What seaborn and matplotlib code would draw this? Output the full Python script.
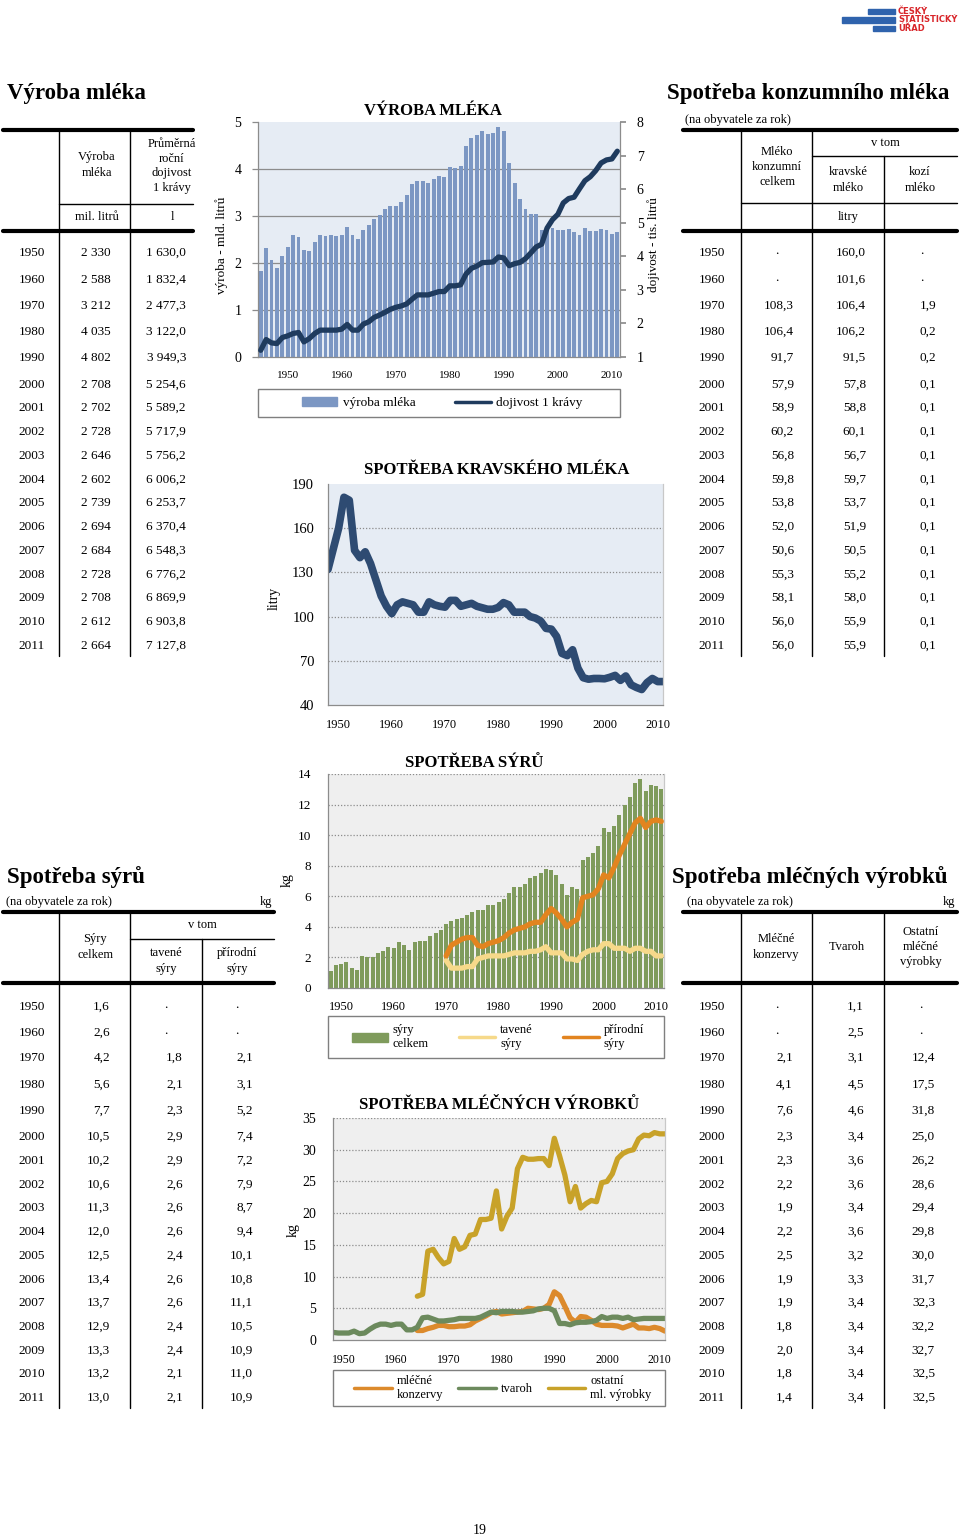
import numpy as np
import pandas as pd
import seaborn as sns
import matplotlib.pyplot as plt
from matplotlib.lines import Line2D
from matplotlib.patches import Rectangle, Patch

W, H = 960, 1540

# ---- data ----
vyroba_roky = list(range(1945, 2012))
vyroba_mld = [1.82, 2.31, 2.07, 1.89, 2.14,
              2.33, 2.60, 2.55, 2.28, 2.26, 2.44, 2.60, 2.57, 2.59, 2.58,
              2.59, 2.77, 2.59, 2.51, 2.70, 2.80, 2.94, 3.03, 3.14, 3.22,
              3.21, 3.30, 3.45, 3.69, 3.75, 3.74, 3.70, 3.78, 3.85, 3.83,
              4.04, 4.03, 4.06, 4.49, 4.65, 4.72, 4.81, 4.75, 4.76, 4.89,
              4.80, 4.13, 3.70, 3.36, 3.14, 3.04, 3.05, 2.71, 2.72, 2.74,
              2.71, 2.70, 2.73, 2.65, 2.60, 2.74, 2.69, 2.68, 2.73, 2.71, 2.61, 2.66]
dojivost_tis = [1.20, 1.52, 1.42, 1.40, 1.58,
                1.63, 1.70, 1.73, 1.45, 1.55, 1.70, 1.80, 1.80, 1.80, 1.80,
                1.83, 1.97, 1.80, 1.80, 1.98, 2.05, 2.18, 2.25, 2.33, 2.42,
                2.48, 2.52, 2.58, 2.72, 2.85, 2.85, 2.85, 2.90, 2.95, 2.95,
                3.12, 3.12, 3.15, 3.47, 3.64, 3.71, 3.81, 3.82, 3.83, 3.98,
                3.95, 3.72, 3.78, 3.82, 3.93, 4.10, 4.28, 4.36, 4.84, 5.09,
                5.25, 5.59, 5.72, 5.76, 6.01, 6.25, 6.37, 6.55, 6.78, 6.87, 6.90, 7.13]

kravske_roky = list(range(1948, 2012))
kravske_litry = [132, 146,
                 160, 181, 179, 145, 140, 144, 136, 125, 114, 107,
                 102, 108, 110, 109, 108, 103, 103, 110, 108, 107,
                 106.4, 111, 111, 107, 108, 109, 107, 106, 105, 105,
                 106.2, 109.5, 108, 103, 103, 103, 100, 99, 97, 92,
                 91.5, 86.5, 75, 73.5, 77.5, 65, 58.5, 57.5, 58, 58,
                 57.8, 58.8, 60.1, 56.7, 59.7, 53.7, 51.9, 50.5, 55.2, 58.0, 55.9, 55.9]

syry_roky = list(range(1948, 2012))
syry_celkem = [1.1, 1.5,
               1.6, 1.7, 1.3, 1.2, 2.1, 2.0, 2.0, 2.3, 2.4, 2.7,
               2.6, 3.0, 2.8, 2.5, 3.0, 3.1, 3.1, 3.4, 3.6, 3.8,
               4.2, 4.4, 4.5, 4.6, 4.8, 5.0, 5.1, 5.1, 5.4, 5.4,
               5.6, 5.8, 6.2, 6.6, 6.6, 6.8, 7.2, 7.3, 7.5, 7.8,
               7.7, 7.4, 6.8, 6.1, 6.6, 6.5, 8.4, 8.6, 8.8, 9.3,
               10.5, 10.2, 10.6, 11.3, 12.0, 12.5, 13.4, 13.7, 12.9, 13.3, 13.2, 13.0]
syry_druhy_roky = list(range(1970, 2012))
tavene = [1.8, 1.3, 1.3, 1.3, 1.4, 1.4, 1.9, 2.0, 2.1, 2.1,
          2.1, 2.1, 2.2, 2.3, 2.3, 2.3, 2.4, 2.4, 2.5, 2.7,
          2.3, 2.3, 2.3, 1.9, 1.9, 1.8, 2.2, 2.4, 2.5, 2.5,
          2.9, 2.9, 2.6, 2.6, 2.6, 2.4, 2.6, 2.6, 2.4, 2.4, 2.1, 2.1]
prirodni = [2.1, 2.8, 3.0, 3.2, 3.3, 3.3, 2.8, 2.7, 2.9, 3.0,
            3.1, 3.3, 3.6, 3.8, 3.9, 4.0, 4.2, 4.3, 4.3, 4.8,
            5.2, 4.9, 4.5, 4.0, 4.3, 4.5, 5.9, 6.0, 6.1, 6.5,
            7.4, 7.2, 7.9, 8.7, 9.4, 10.1, 10.8, 11.1, 10.5, 10.9, 11.0, 10.9]

tvaroh_roky = list(range(1948, 2012))
tvaroh = [1.2, 1.1,
          1.1, 1.1, 1.4, 1.0, 1.1, 1.7, 2.2, 2.5, 2.5, 2.3,
          2.5, 2.5, 1.6, 1.6, 2.0, 3.5, 3.6, 3.3, 3.0, 3.0,
          3.1, 3.2, 3.4, 3.4, 3.4, 3.4, 3.6, 4.0, 4.4, 4.3,
          4.5, 4.5, 4.5, 4.4, 4.4, 4.5, 4.6, 4.9, 5.0, 5.0,
          4.6, 2.6, 2.6, 2.4, 2.7, 2.8, 2.8, 2.9, 3.1, 3.7,
          3.4, 3.6, 3.6, 3.4, 3.6, 3.2, 3.3, 3.4, 3.4, 3.4, 3.4, 3.4]
vyrobky_roky = list(range(1964, 2012))
konzervy = [1.5, 1.5, 1.8, 2.0, 2.3, 2.3,
            2.1, 2.1, 2.2, 2.2, 2.4, 3.0, 3.4, 3.8, 4.3, 4.5,
            4.1, 4.2, 4.3, 4.4, 4.5, 5.0, 4.9, 4.8, 5.0, 5.6,
            7.6, 7.0, 5.3, 3.5, 2.8, 3.7, 3.6, 3.1, 2.5, 2.3,
            2.3, 2.3, 2.2, 1.9, 2.2, 2.5, 1.9, 1.9, 1.8, 2.0, 1.8, 1.4]
ostatni = [6.9, 7.2, 14.0, 14.3, 13.0, 12.0,
           12.4, 16.0, 14.3, 14.7, 16.5, 16.7, 19.0, 19.0, 19.2, 23.5,
           17.5, 19.5, 20.8, 27.0, 28.8, 28.5, 28.5, 28.6, 28.6, 27.5,
           31.8, 29.0, 26.0, 21.8, 24.2, 20.8, 21.5, 22.0, 21.8, 24.8,
           25.0, 26.2, 28.6, 29.4, 29.8, 30.0, 31.7, 32.3, 32.2, 32.7, 32.5, 32.5]

# ---- table contents ----
tab_roky = ['1950', '1960', '1970', '1980', '1990', '2000', '2001', '2002', '2003',
            '2004', '2005', '2006', '2007', '2008', '2009', '2010', '2011']
t1_vyroba = ['2 330', '2 588', '3 212', '4 035', '4 802', '2 708', '2 702', '2 728', '2 646',
             '2 602', '2 739', '2 694', '2 684', '2 728', '2 708', '2 612', '2 664']
t1_dojivost = ['1 630,0', '1 832,4', '2 477,3', '3 122,0', '3 949,3', '5 254,6', '5 589,2',
               '5 717,9', '5 756,2', '6 006,2', '6 253,7', '6 370,4', '6 548,3', '6 776,2',
               '6 869,9', '6 903,8', '7 127,8']
t2_celkem = ['.', '.', '108,3', '106,4', '91,7', '57,9', '58,9', '60,2', '56,8',
             '59,8', '53,8', '52,0', '50,6', '55,3', '58,1', '56,0', '56,0']
t2_kravske = ['160,0', '101,6', '106,4', '106,2', '91,5', '57,8', '58,8', '60,1', '56,7',
              '59,7', '53,7', '51,9', '50,5', '55,2', '58,0', '55,9', '55,9']
t2_kozi = ['.', '.', '1,9', '0,2', '0,2', '0,1', '0,1', '0,1', '0,1',
           '0,1', '0,1', '0,1', '0,1', '0,1', '0,1', '0,1', '0,1']
t3_celkem = ['1,6', '2,6', '4,2', '5,6', '7,7', '10,5', '10,2', '10,6', '11,3',
             '12,0', '12,5', '13,4', '13,7', '12,9', '13,3', '13,2', '13,0']
t3_tavene = ['.', '.', '1,8', '2,1', '2,3', '2,9', '2,9', '2,6', '2,6',
             '2,6', '2,4', '2,6', '2,6', '2,4', '2,4', '2,1', '2,1']
t3_prirodni = ['.', '.', '2,1', '3,1', '5,2', '7,4', '7,2', '7,9', '8,7',
               '9,4', '10,1', '10,8', '11,1', '10,5', '10,9', '11,0', '10,9']
t4_konzervy = ['.', '.', '2,1', '4,1', '7,6', '2,3', '2,3', '2,2', '1,9',
               '2,2', '2,5', '1,9', '1,9', '1,8', '2,0', '1,8', '1,4']
t4_tvaroh = ['1,1', '2,5', '3,1', '4,5', '4,6', '3,4', '3,6', '3,6', '3,4',
             '3,6', '3,2', '3,3', '3,4', '3,4', '3,4', '3,4', '3,4']
t4_ostatni = ['.', '.', '12,4', '17,5', '31,8', '25,0', '26,2', '28,6', '29,4',
              '29,8', '30,0', '31,7', '32,3', '32,2', '32,7', '32,5', '32,5']

sns.set_theme(style="white")
plt.rcParams['font.family'] = ['Liberation Serif', 'DejaVu Serif']
plt.rcParams['text.color'] = 'black'
plt.rcParams['xtick.color'] = 'black'
plt.rcParams['ytick.color'] = 'black'

fig = plt.figure(figsize=(9.6, 15.4), dpi=100)


def box(x0, y0, x1, y1):
    return fig.add_axes([x0 / W, 1 - y1 / H, (x1 - x0) / W, (y1 - y0) / H])


def txt(x, y, s, size=9.5, ha='center', va='center', **kw):
    fig.text(x / W, 1 - y / H, s, fontsize=size, ha=ha, va=va, **kw)


def line(x0, y0, x1, y1, lw=1.0):
    fig.add_artist(Line2D([x0 / W, x1 / W], [1 - y0 / H, 1 - y1 / H], lw=lw, color='black'))


def legend_box(ax, handles, labels, x0, y0, x1, y1, ncol, cx, size=9.5, hlen=2.8, colsp=2.5):
    # frame spans the plot width, entries sit centred inside it
    fig.add_artist(Rectangle((x0 / W, 1 - y1 / H), (x1 - x0) / W, (y1 - y0) / H,
                             fill=False, edgecolor='#7f7f7f', lw=1.0, transform=fig.transFigure))
    ax.legend(handles, labels, loc='center', ncol=ncol,
              bbox_to_anchor=(cx / W, 1 - (y0 + y1) / 2 / H), bbox_transform=fig.transFigure,
              frameon=False, fontsize=size, handlelength=hlen, handletextpad=0.4,
              borderaxespad=0, borderpad=0, columnspacing=colsp)


def style_axes(ax, bg, grid_vals, dotted=True):
    ax.set_facecolor(bg)
    for s in ax.spines.values():
        s.set_color('#8c8c8c')
        s.set_linewidth(0.9)
    ax.spines['top'].set_visible(False)
    ax.spines['right'].set_color('#c8c8c8')
    for v in grid_vals:
        ax.axhline(v, color='#8c8c8c', lw=0.9, ls=(0, (1, 1.5)) if dotted else '-', zorder=0.5)
    ax.tick_params(axis='both', direction='out', length=4, color='#8c8c8c', width=0.9)
    ax.set_xlabel('')
    ax.set_ylabel('')


rows_top = [253, 280, 306, 332, 358, 385, 408, 432, 456, 480, 503, 527, 551, 575, 598, 622, 646]
rows_bot = [1007, 1033, 1058, 1085, 1111, 1137, 1161, 1185, 1208, 1232, 1256, 1280, 1303, 1327,
            1351, 1374, 1398]


def fill_table(rows, year_x, cols):
    for i, y in enumerate(rows):
        txt(year_x, y, tab_roky[i])
        for vals, right, center in cols:
            v = vals[i]
            if v == '.':
                txt(center, y - 2, v)
            else:
                txt(right, y, v, ha='right')


# ---- logo ----
logo_blue = '#2f63ad'
for (x0, y0, x1, y1) in [(868, 9, 895, 14), (842, 17, 895, 23), (873, 26, 895, 31)]:
    fig.add_artist(Rectangle((x0 / W, 1 - y1 / H), (x1 - x0) / W, (y1 - y0) / H,
                             color=logo_blue, transform=fig.transFigure))
for s, y in [('ČESKÝ', 11.5), ('STATISTICKÝ', 20), ('ÚŘAD', 28.5)]:
    txt(898, y, s, size=6, ha='left', color='#d9262b', weight='bold', family='DejaVu Sans')

# ---- table 1: Výroba mléka ----
txt(7, 94, 'Výroba mléka', size=16.5, ha='left', weight='bold')
line(3, 130, 193, 130, lw=3)
line(59, 130, 59, 656)
line(130, 130, 130, 656)
line(59, 204, 193, 204)
line(3, 231, 193, 231, lw=3)
txt(97, 165, 'Výroba\nmléka', size=9, linespacing=1.35)
txt(172, 166, 'Průměrná\nroční\ndojivost\n1 krávy', size=9, linespacing=1.3)
txt(97, 217, 'mil. litrů', size=9)
txt(172, 217, 'l', size=9)
fill_table(rows_top, 32, [(t1_vyroba, 111, 95), (t1_dojivost, 186, 166)])

# ---- table 2: Spotřeba konzumního mléka ----
txt(667, 94, 'Spotřeba konzumního mléka', size=16.5, ha='left', weight='bold')
txt(685, 120, '(na obyvatele za rok)', size=9, ha='left')
line(683, 130, 957, 130, lw=3)
line(741, 130, 741, 656)
line(812, 130, 812, 656)
line(884, 156, 884, 656)
line(812, 156, 957, 156)
line(741, 203, 957, 203)
line(683, 231, 957, 231, lw=3)
txt(777, 167, 'Mléko\nkonzumní\ncelkem', size=9, linespacing=1.3)
txt(885, 143, 'v tom', size=9)
txt(848, 180, 'kravské\nmléko', size=9, linespacing=1.35)
txt(920, 180, 'kozí\nmléko', size=9, linespacing=1.35)
txt(848, 217, 'litry', size=9)
fill_table(rows_top, 712, [(t2_celkem, 794, 777), (t2_kravske, 866, 848), (t2_kozi, 936, 922)])

# ---- table 3: Spotřeba sýrů ----
txt(7, 877, 'Spotřeba sýrů', size=16.5, ha='left', weight='bold')
txt(6, 902, '(na obyvatele za rok)', size=9, ha='left')
txt(272, 902, 'kg', size=9, ha='right')
line(3, 912, 274, 912, lw=3)
line(59, 912, 59, 1408)
line(130, 912, 130, 1408)
line(202, 939, 202, 1408)
line(130, 939, 274, 939)
line(3, 983, 274, 983, lw=3)
txt(95, 947, 'Sýry\ncelkem', size=9, linespacing=1.35)
txt(202, 925, 'v tom', size=9)
txt(166, 961, 'tavené\nsýry', size=9, linespacing=1.35)
txt(237, 961, 'přírodní\nsýry', size=9, linespacing=1.35)
fill_table(rows_bot, 32, [(t3_celkem, 110, 100), (t3_tavene, 183, 166), (t3_prirodni, 253, 237)])

# ---- table 4: Spotřeba mléčných výrobků ----
txt(672, 877, 'Spotřeba mléčných výrobků', size=16.5, ha='left', weight='bold')
txt(687, 902, '(na obyvatele za rok)', size=9, ha='left')
txt(955, 902, 'kg', size=9, ha='right')
line(683, 912, 957, 912, lw=3)
line(741, 912, 741, 1408)
line(812, 912, 812, 1408)
line(884, 912, 884, 1408)
line(683, 983, 957, 983, lw=3)
txt(776, 947, 'Mléčné\nkonzervy', size=9, linespacing=1.35)
txt(847, 947, 'Tvaroh', size=9)
txt(921, 947, 'Ostatní\nmléčné\nvýrobky', size=9, linespacing=1.3)
fill_table(rows_bot, 712, [(t4_konzervy, 793, 777), (t4_tvaroh, 864, 848), (t4_ostatni, 935, 921)])

# ---- chart 1: VÝROBA MLÉKA ----
ax1 = box(258, 122, 620, 357)
df1 = pd.DataFrame({'rok': vyroba_roky, 'vyroba': vyroba_mld, 'dojivost': dojivost_tis})
bar_blue = '#7c97c3'
sns.barplot(data=df1, x='rok', y='vyroba', native_scale=True, color=bar_blue, saturation=1,
            width=0.72, linewidth=0, errorbar=None, ax=ax1)
style_axes(ax1, '#e6ecf4', [1, 2, 3, 4], dotted=False)
ax1.spines['right'].set_color('#8c8c8c')
ax1.set_ylim(0, 5)
ax1.set_yticks([0, 1, 2, 3, 4, 5])
ax1.tick_params(axis='y', labelsize=10, pad=8)
ax1b = ax1.twinx()
line_navy = '#1f3b5e'
sns.lineplot(data=df1, x='rok', y='dojivost', color=line_navy, lw=3.8, ax=ax1b)
ax1b.set_ylim(1, 8)
ax1b.set_yticks(range(1, 9))
ax1b.set_ylabel('')
ax1b.tick_params(axis='y', labelsize=10, direction='out', length=4, color='#8c8c8c', pad=8, right=True)
for s in ax1b.spines.values():
    s.set_visible(False)
ax1.set_xlim(1944.5, 2011.5)
ax1.set_xticks(range(1950, 2011, 10))
ax1.tick_params(axis='x', labelsize=8, pad=6)
txt(433, 111, 'VÝROBA MLÉKA', size=12, weight='bold')
txt(222, 245, 'výroba - mld. litrů', size=9.5, rotation=90)
txt(654, 245, 'dojivost - tis. litrů', size=9.5, rotation=90)
legend_box(ax1b, [Patch(color=bar_blue), Line2D([], [], color=line_navy, lw=2.5)],
           ['výroba mléka', 'dojivost 1 krávy'], 258, 389, 620, 417, ncol=2, cx=442,
           hlen=2.7, colsp=3.0)

# ---- chart 2: SPOTŘEBA KRAVSKÉHO MLÉKA ----
ax2 = box(328, 484, 663, 705)
df2 = pd.DataFrame({'rok': kravske_roky, 'litry': kravske_litry})
sns.lineplot(data=df2, x='rok', y='litry', color='#2e4b72', lw=5.5, ax=ax2)
style_axes(ax2, '#e6ecf4', [70, 100, 130, 160])
ax2.set_ylim(40, 190)
ax2.set_yticks(range(40, 191, 30))
ax2.set_xlim(1948, 2011)
ax2.set_xticks(range(1950, 2011, 10))
ax2.tick_params(axis='y', labelsize=10.5, pad=6)
ax2.tick_params(axis='x', labelsize=9, pad=6)
txt(497, 470, 'SPOTŘEBA KRAVSKÉHO MLÉKA', size=12, weight='bold')
txt(274, 598, 'litry', size=10, rotation=90)

# ---- chart 3: SPOTŘEBA SÝRŮ ----
ax3 = box(328, 774, 664, 988)
df3 = pd.DataFrame({'rok': syry_roky, 'celkem': syry_celkem})
df3b = pd.DataFrame({'rok': syry_druhy_roky, 'tavene': tavene, 'prirodni': prirodni})
bar_green = '#7f9b5c'
c_tavene = '#f6d98a'
c_prirodni = '#e2841f'
sns.barplot(data=df3, x='rok', y='celkem', native_scale=True, color=bar_green, saturation=1,
            width=0.72, linewidth=0, errorbar=None, ax=ax3)
sns.lineplot(data=df3b, x='rok', y='tavene', color=c_tavene, lw=3.8, ax=ax3)
sns.lineplot(data=df3b, x='rok', y='prirodni', color=c_prirodni, lw=3.8, ax=ax3)
style_axes(ax3, '#efefef', [2, 4, 6, 8, 10, 12, 14])
ax3.set_ylim(0, 14)
ax3.set_yticks(range(0, 15, 2))
ax3.set_xlim(1947.5, 2011.5)
ax3.set_xticks(range(1950, 2011, 10))
ax3.tick_params(axis='y', labelsize=9.5, pad=8)
ax3.tick_params(axis='x', labelsize=9, pad=5)
txt(474, 763, 'SPOTŘEBA SÝRŮ', size=12, weight='bold')
txt(287, 880, 'kg', size=10, rotation=90)
legend_box(ax3, [Patch(color=bar_green), Line2D([], [], color=c_tavene, lw=2.5),
                 Line2D([], [], color=c_prirodni, lw=2.5)],
           ['sýry\ncelkem', 'tavené\nsýry', 'přírodní\nsýry'], 328, 1016, 664, 1058,
           ncol=3, cx=498, size=9, hlen=2.9, colsp=2.4)

# ---- chart 4: SPOTŘEBA MLÉČNÝCH VÝROBKŮ ----
ax4 = box(333, 1118, 665, 1340)
df4a = pd.DataFrame({'rok': tvaroh_roky, 'tvaroh': tvaroh})
df4b = pd.DataFrame({'rok': vyrobky_roky, 'konzervy': konzervy, 'ostatni': ostatni})
c_konzervy = '#dc8a2c'
c_tvaroh = '#6c8a5d'
c_ostatni = '#c8a229'
sns.lineplot(data=df4b, x='rok', y='ostatni', color=c_ostatni, lw=3.8, ax=ax4)
sns.lineplot(data=df4b, x='rok', y='konzervy', color=c_konzervy, lw=3.8, ax=ax4)
sns.lineplot(data=df4a, x='rok', y='tvaroh', color=c_tvaroh, lw=3.8, ax=ax4)
style_axes(ax4, '#efefef', [5, 10, 15, 20, 25, 30, 35])
ax4.set_ylim(0, 35)
ax4.set_yticks(range(0, 36, 5))
ax4.set_xlim(1948, 2011)
ax4.set_xticks(range(1950, 2011, 10))
ax4.tick_params(axis='y', labelsize=10, pad=8)
ax4.tick_params(axis='x', labelsize=8.5, pad=6)
txt(499, 1105, 'SPOTŘEBA MLÉČNÝCH VÝROBKŮ', size=12, weight='bold')
txt(293, 1230, 'kg', size=10, rotation=90)
legend_box(ax4, [Line2D([], [], color=c_konzervy, lw=2.5), Line2D([], [], color=c_tvaroh, lw=2.5),
                 Line2D([], [], color=c_ostatni, lw=2.5)],
           ['mléčné\nkonzervy', 'tvaroh', 'ostatní\nml. výrobky'], 333, 1370, 665, 1406,
           ncol=3, cx=503, size=9, hlen=3.0, colsp=1.2)

txt(480, 1531, '19', size=10)

fig.savefig('out.png', dpi=100, facecolor='white')
